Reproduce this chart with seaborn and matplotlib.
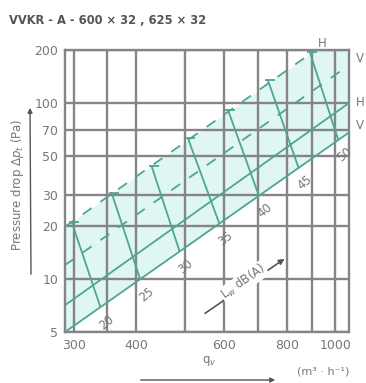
import numpy as np
import pandas as pd
import matplotlib
matplotlib.use('Agg')
import matplotlib.pyplot as plt
import seaborn as sns
from matplotlib.ticker import NullLocator, FixedLocator, FixedFormatter

# Characteristic lines (two end points each, log-log straight lines)
q_ends = [288, 1065]
v_solid = [5.0, 68.0]
h_solid = [7.1, 100.0]
v_dashed = [12.0, 164.0]
h_dashed = [19.8, 272.0]

# Sound power level lines L_w dB(A)
levels = [20, 25, 30, 35, 40, 45, 50]
top_q = [297, 357, 429, 507, 610, 733, 889]
top_p = [21.1, 30.8, 43.9, 63.3, 91.3, 135, 195]
bot_q = [339, 407, 488, 586, 703, 844, 1013]
bot_p = [6.93, 9.99, 14.4, 20.7, 29.8, 42.9, 61.9]

x_ticks = [300, 350, 400, 500, 600, 700, 800, 900, 1000]
x_labels = ['300', '', '400', '', '600', '', '800', '', '1000']
y_ticks = [5, 10, 20, 30, 50, 70, 100, 200]
y_labels = ['5', '10', '20', '30', '50', '70', '100', '200']

teal = '#4fa595'
grid_c = '#858585'
text_c = '#777777'

sns.set_style('white')
plt.rcParams['font.family'] = ['DejaVu Sans']

W, H = 366, 383
fig = plt.figure(figsize=(W / 100, H / 100), dpi=100)
ax = fig.add_axes([65 / W, 1 - 332 / H, (349 - 65) / W, (332 - 50) / H])
ax.set_xscale('log')
ax.set_yscale('log')

lines = pd.DataFrame({
    'q': q_ends * 4,
    'p': v_solid + h_solid + v_dashed + h_dashed,
    'kind': ['V'] * 2 + ['H'] * 2 + ['Vd'] * 2 + ['Hd'] * 2,
})

# shaded band
ax.fill_between(q_ends, v_solid, h_dashed, color='#e0f6f3', lw=0, zorder=0)

# grid
for xv in x_ticks:
    ax.axvline(xv, color=grid_c, lw=1.7, zorder=1)
for yv in y_ticks:
    ax.axhline(yv, color=grid_c, lw=1.7, zorder=1)

for kind, ls in [('V', '-'), ('H', '-'), ('Vd', '--'), ('Hd', '--')]:
    sub = lines[lines['kind'] == kind]
    sns.lineplot(data=sub, x='q', y='p', ax=ax, color=teal, lw=1.3,
                 estimator=None, sort=False, zorder=3)
    if ls == '--':
        ax.lines[-1].set_dashes((6, 6))

for i, lev in enumerate(levels):
    saw = pd.DataFrame({'q': [top_q[i], bot_q[i]], 'p': [top_p[i], bot_p[i]]})
    sns.lineplot(data=saw, x='q', y='p', ax=ax, color=teal, lw=1.3,
                 estimator=None, sort=False, zorder=3)
    ax.plot([top_q[i] * 1.01], [top_p[i]], marker='_', ms=7, mew=1.3,
            color=teal, zorder=3)
    ax.annotate(str(lev), (bot_q[i], bot_p[i]), xytext=(6, -15),
                textcoords='offset pixels', fontsize=8.5, color=text_c,
                rotation=40, ha='center', va='center')

ax.set_xlim(q_ends)
ax.set_ylim(5, 200)
ax.xaxis.set_major_locator(FixedLocator(x_ticks))
ax.xaxis.set_major_formatter(FixedFormatter(x_labels))
ax.yaxis.set_major_locator(FixedLocator(y_ticks))
ax.yaxis.set_major_formatter(FixedFormatter(y_labels))
ax.xaxis.set_minor_locator(NullLocator())
ax.yaxis.set_minor_locator(NullLocator())
ax.tick_params(length=0, labelsize=9, colors=text_c, pad=5)
ax.set_xlabel('')
ax.set_ylabel('')
for s in ax.spines.values():
    s.set_color(grid_c)
    s.set_linewidth(1.7)

# L_w arrow inside the plot
ax.annotate('', xy=(800, 13.3), xytext=(543, 6.25),
            arrowprops=dict(arrowstyle='-|>', color='#555555', lw=1.2,
                            mutation_scale=8), zorder=4)
ax.text(655, 9.6, r'L$_w$ dB(A)', rotation=35, fontsize=8.5, color=text_c,
        ha='center', va='center', zorder=4,
        bbox=dict(facecolor='white', edgecolor='none', pad=0.5))

# line labels on the right
ax.text(1.04, 164, 'V', transform=ax.get_yaxis_transform(), fontsize=8.5,
        color=text_c, ha='center', va='bottom')
ax.text(1.04, 100, 'H', transform=ax.get_yaxis_transform(), fontsize=8.5,
        color=text_c, ha='center', va='center')
ax.text(1.04, 68, 'V', transform=ax.get_yaxis_transform(), fontsize=8.5,
        color=text_c, ha='center', va='bottom')
ax.text(940, 200, 'H', fontsize=8.5, color=text_c, ha='center', va='bottom')

# titles and axis labels
fig.text(9 / W, 1 - 20 / H, 'VVKR - A - 600 × 32 , 625 × 32', fontsize=8.3,
         fontweight='bold', color='#555555', ha='left', va='center')
fig.text(18 / W, 1 - 185 / H, r'Pressure drop $\Delta p_t$ (Pa)', rotation=90,
         fontsize=8.5, color=text_c, ha='center', va='center')
fig.text(209 / W, 1 - 361 / H, r'q$_v$', fontsize=8.5, color=text_c,
         ha='center', va='center')
fig.text(349 / W, 1 - 372 / H, '(m³ · h⁻¹)', fontsize=8, color=text_c,
         ha='right', va='center')
ax.annotate('', xy=(30, H - 105), xytext=(31, H - 277), xycoords='figure pixels',
            arrowprops=dict(arrowstyle='-|>', color='#555555', lw=1,
                            mutation_scale=7))
ax.annotate('', xy=(278, H - 380), xytext=(138, H - 380),
            xycoords='figure pixels',
            arrowprops=dict(arrowstyle='-|>', color='#555555', lw=1,
                            mutation_scale=7))

fig.savefig('out.png', dpi=100)
